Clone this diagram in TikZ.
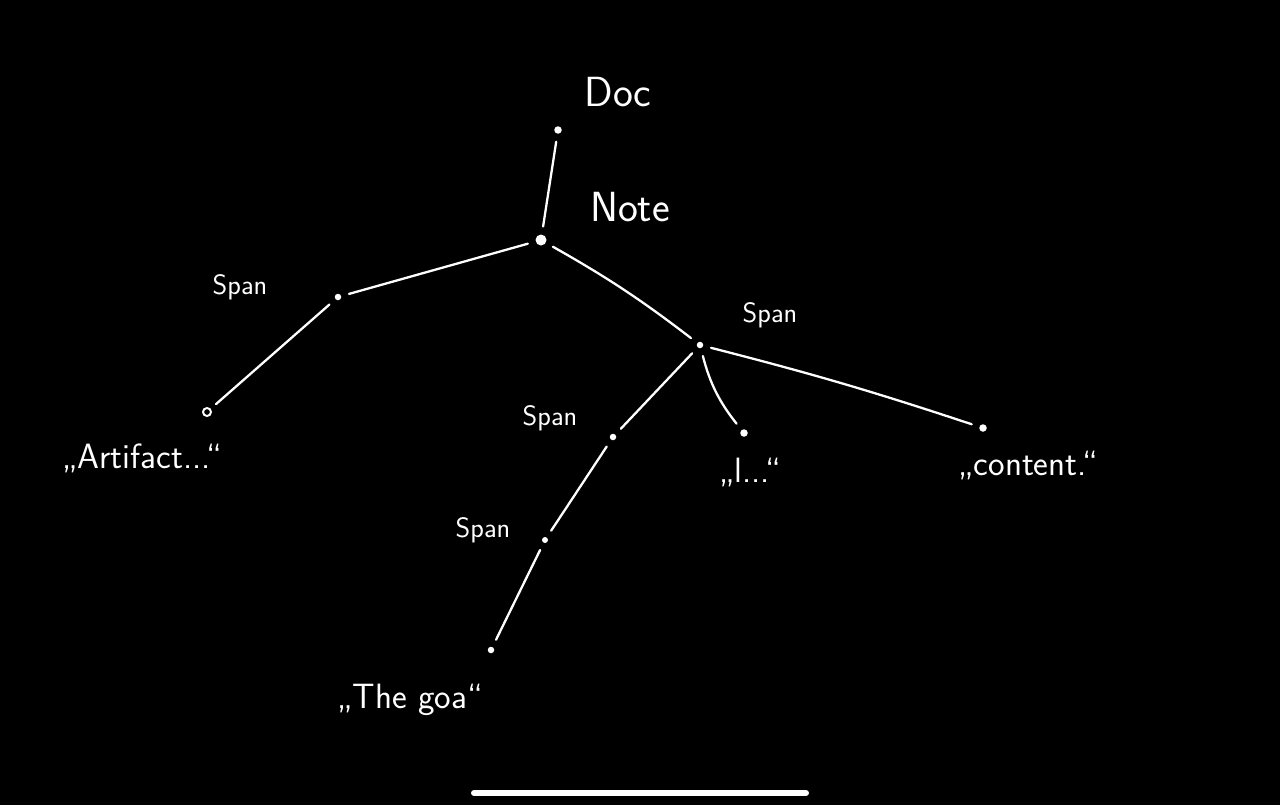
\documentclass[tikz,border=0pt]{standalone}
\usepackage{tikz}
\usetikzlibrary{positioning}

\begin{document}
\begin{tikzpicture}
	[x=0.02cm, y=-0.02cm, line width=1.3pt,
	 dot/.style={circle, fill=white, inner sep=0pt, minimum size=1.5mm},
	 ring/.style={circle, draw=white, line width=1.1pt, fill=black, inner sep=0pt, minimum size=1.6mm},
	 lbl/.style={text=white, font=\sffamily\fontsize{16}{19}\selectfont},
	 quote/.style={text=white, font=\sffamily\fontsize{20}{24}\selectfont},
	 big/.style={text=white, font=\sffamily\fontsize{24}{28}\selectfont}]
   \fill[black] (0,0) rectangle (1280,805);
   % tree points
   \node[dot] (doc) at (558,130) {};
   \node[dot, minimum size=2.2mm] (note) at (541,240) {};
   \node[dot, minimum size=1.3mm] (span_l) at (338,297) {};
   \node[ring] (artifact) at (207,412) {};
   \node[dot, minimum size=1.3mm] (span_r) at (700,345) {};
   \node[dot, minimum size=1.3mm] (span_m) at (613,437) {};
   \node[dot, minimum size=1.2mm] (span_b) at (545,540) {};
   \node[dot, minimum size=1.3mm] (goal) at (491,650) {};
   \node[dot] (ell) at (744,433) {};
   \node[dot] (content) at (983,428) {};
   % labels
   \node[big] (doc_t) at (618,92) {Doc};
   \node[big] (note_t) at (630,207) {Note};
   \node[lbl] (span_l_t) at (240,287) {Span};
   \node[lbl] (span_r_t) at (770,315) {Span};
   \node[lbl] (span_m_t) at (550,418) {Span};
   \node[lbl] (span_b_t) at (483,530) {Span};
   \node[quote] (artifact_t) at (142,458) {„Artifact...“};
   \node[quote] (ell_t) at (750,472) {„l...“};
   \node[quote] (content_t) at (1028,465) {„content.“};
   \node[quote] (goal_t) at (410,700) {„The goa“};
    \path[draw=white, line cap=round, shorten >=4pt, shorten <=4pt]
    (doc) edge (note)
    (note) edge (span_l)
    	   edge [bend left=4] (span_r)
    (span_l) edge (artifact)
    (span_r) edge (span_m)
    		 edge [bend right=12] (ell)
    		 edge [bend left=2] (content)
    (span_m) edge (span_b)
    (span_b) edge (goal);
   % home indicator
   \draw[white, line width=3.4pt, line cap=round] (474,793) -- (806,793);
\end{tikzpicture}
\end{document}
